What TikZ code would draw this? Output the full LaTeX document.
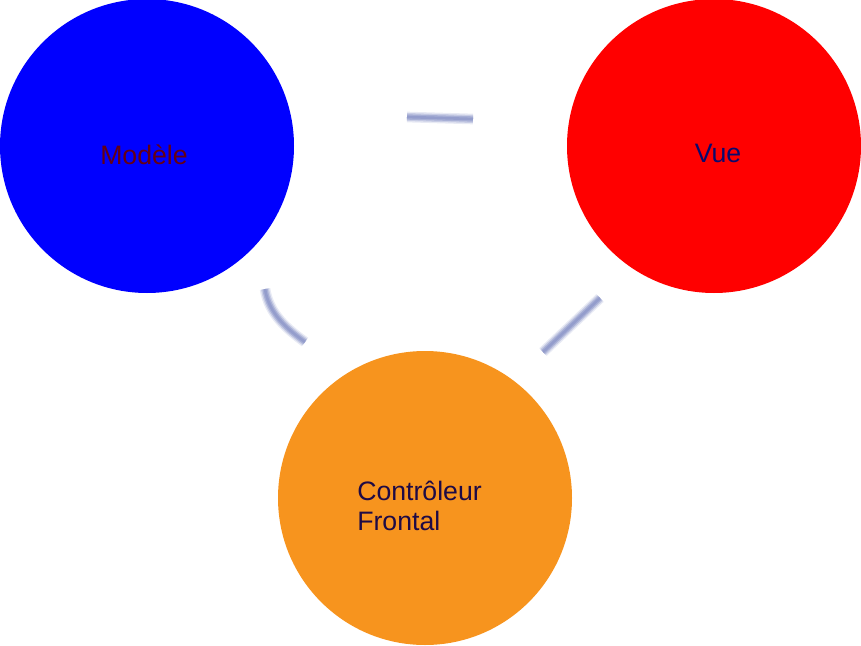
\documentclass[tikz,border=0pt]{standalone}
\usepackage{fontspec}
\setmainfont{Liberation Sans}
\usetikzlibrary{positioning}

\definecolor{orangeC}{RGB}{247,148,30}
\definecolor{linkC}{RGB}{140,150,200}
\definecolor{modeleT}{RGB}{100,0,20}
\definecolor{vueT}{RGB}{10,10,110}
\definecolor{ctrlT}{RGB}{30,10,70}

\begin{document}
\begin{tikzpicture}[x=0.75pt,y=-0.75pt,
    bulle/.style={circle, inner sep=0pt, minimum size=220.5pt},
    titre/.style={anchor=base, font=\fontsize{20}{22.5}\selectfont},
    lien/.style={line width=#1, linkC, line cap=butt}]

    \useasboundingbox (0,0) rectangle (861,646);

    % cercles
    \node[bulle, fill=blue] (modele) at (147,146) {};
    \node[bulle, fill=red] (vue) at (714,146) {};
    \node[bulle, fill=orangeC] (controleur) at (425,498) {};

    % textes
    \node[titre, text=modeleT] (modeletxt) at (144,164) {Modèle};
    \node[titre, text=vueT] (vuetxt) at (718,162) {Vue};
    \node[titre, anchor=base west, text=ctrlT, align=left, inner sep=0pt] (controleurtxt) at (357,530) {Contrôleur\\Frontal};

    % liens (bouts libres)
    \coordinate (haut1) at (407,117);
    \coordinate (haut2) at (473,119);
    \coordinate (gauche1) at (265,289);
    \coordinate (gauche2) at (305,342);
    \coordinate (droite1) at (600,298);
    \coordinate (droite2) at (543,352);
    \foreach \w/\o in {8pt/0.2,6pt/0.35,4pt/0.55,2pt/0.7} {
        \draw [lien=\w, opacity=\o] (haut1) -- (haut2);
        \draw [lien=\w, opacity=\o] (gauche1) .. controls (269,314) and (287,329) .. (gauche2);
        \draw [lien=\w, opacity=\o] (droite1) -- (droite2);
    }
\end{tikzpicture}
\end{document}
